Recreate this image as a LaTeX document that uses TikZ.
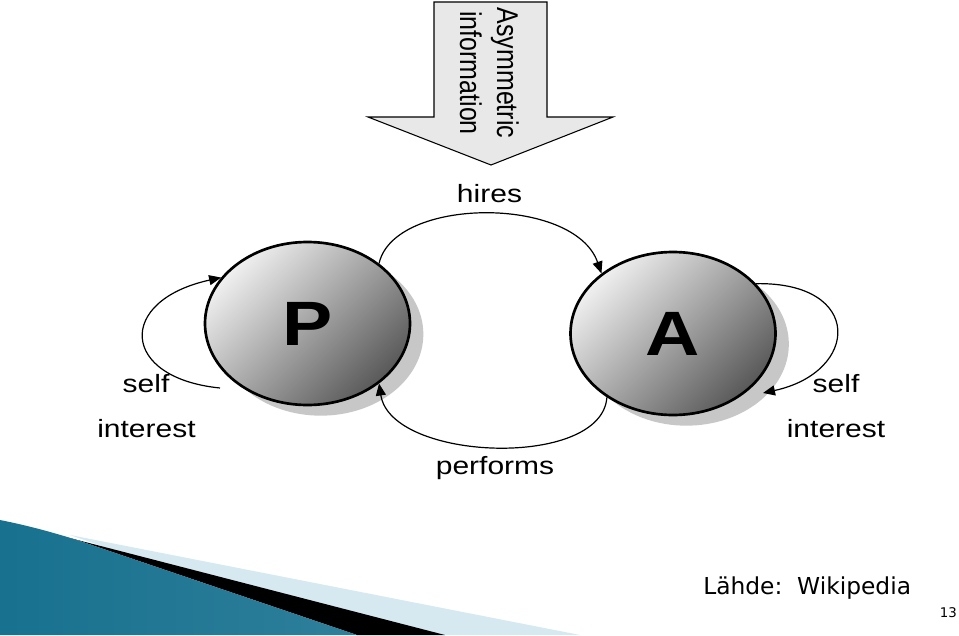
\documentclass[tikz,border=0pt]{standalone}
\usepackage{fontspec}
\setmainfont{Liberation Sans}
\newfontfamily\srcfont{DejaVu Sans}
\usepackage{graphicx}
\usepackage{tikz}
\usetikzlibrary{arrows.meta,shapes.geometric,shadows}
\definecolor{tealdark}{HTML}{17718F}
\definecolor{teallight}{HTML}{4DB0D3}
\definecolor{paleblue}{HTML}{D6E9F1}
\newcommand{\wide}[1]{\scalebox{1.2}[1]{#1}}
\tikzset{
  agent/.style={draw, ellipse, line width=2pt, minimum width=153.75pt, minimum height=122.25pt, inner sep=0pt,
    drop shadow={shadow xshift=10pt, shadow yshift=-8pt, opacity=1, fill=black!22},
    top color=black!6, bottom color=black!65, shading angle=45, font=\bfseries\fontsize{47}{47}\selectfont},
  lbl/.style={font=\fontsize{18.75}{22}\selectfont, inner sep=0pt, anchor=base},
  link/.style={line width=0.9pt, -{Stealth[length=9pt, width=7.5pt, inset=0pt]}}
}

\begin{document}
\begin{tikzpicture}[x=0.75pt, y=-0.75pt]
\useasboundingbox[fill=white] (0,0) rectangle (959,635);
% corner swoosh
\fill[paleblue] (70,535) -- (580,635) -- (357,635) -- cycle;
\fill[black] (62,536) -- (445,635) -- (357,635) -- (80,541) -- cycle;
\shade[left color=tealdark, middle color=teallight, right color=tealdark!90] (0,520) .. controls (30,526) and (55,533) .. (80,541) -- (357,635) -- (0,635) -- cycle;
% block arrow
\draw[fill=black!9, line width=0.8pt] (434,2) -- (547,2) -- (547,117) -- (613,117) -- (491,165) -- (368,117) -- (434,117) -- cycle;
\node[rotate=-90, inner sep=0pt] (info) at (486,73) {\scalebox{1}[1.2]{\fontsize{18.75}{23}\selectfont\begin{tabular}{@{}c@{}}Asymmetric\\information\end{tabular}}};
\node[agent] (P) at (307.5,323.5) {\wide{P}};
\node[agent] (A) at (673,333.5) {\wide{A}};
\coordinate (pOut) at (220,388);
\coordinate (aIn) at (763,393);
\draw[link] (P.40) .. controls +(15,-67) and +(-27,-78) .. (A.140);
\draw[link] (A.224) .. controls +(-5,72) and +(12,78) .. (P.-40);
\draw[link] (pOut) .. controls +(-100,-10) and +(-105,23) .. (P.152);
\draw[link] (A.31) .. controls +(108,-2) and +(97,-21) .. (aIn);
\node[lbl] (hires) at (489.5,202) {\wide{hires}};
\node[lbl] (performs) at (495,474) {\wide{performs}};
\node[lbl] (selfP) at (146,392) {\wide{self}};
\node[lbl] (interestP) at (146.5,437) {\wide{interest}};
\node[lbl] (selfA) at (836,392) {\wide{self}};
\node[lbl] (interestA) at (836,437) {\wide{interest}};
\node[font=\srcfont\fontsize{17.5}{20}\selectfont, anchor=base west, inner sep=0pt] (src) at (703,594) {Lähde:\ \ Wikipedia};
\node[font=\srcfont\fontsize{10}{12}\selectfont, anchor=base east, inner sep=0pt] (pg) at (957,617) {13};
\end{tikzpicture}
\end{document}
